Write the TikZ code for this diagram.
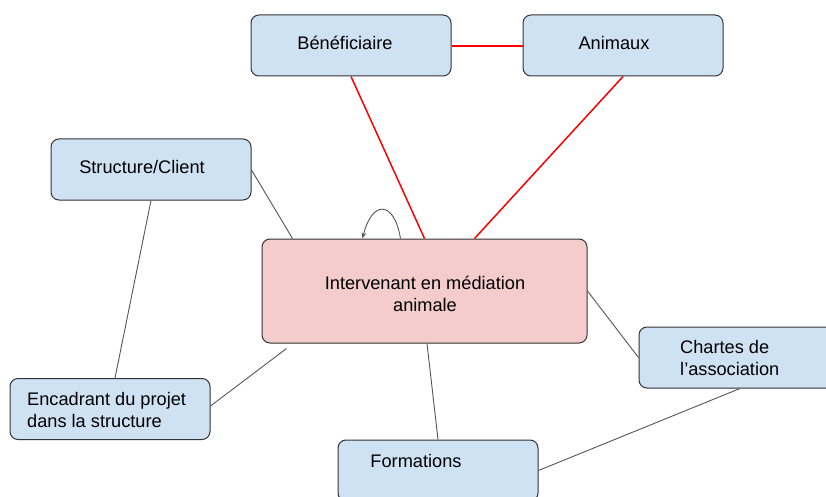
\documentclass[tikz,border=0pt]{standalone}
\usepackage{fontspec}
\setmainfont{Liberation Sans}
\usetikzlibrary{calc,arrows.meta}
\definecolor{boxblue}{HTML}{CFE2F3}
\definecolor{boxpink}{HTML}{F4CCCC}
\definecolor{edgegray}{HTML}{555555}
\definecolor{borderc}{HTML}{333333}
\begin{document}
\begin{tikzpicture}[x=1pt,y=-1pt,
  box/.style={draw=borderc,line width=1pt,rounded corners=8pt,fill=boxblue,
    minimum width=200pt,minimum height=61pt,inner sep=0pt},
  mainbox/.style={box,fill=boxpink,minimum width=325pt,minimum height=104pt},
  txt/.style={inner sep=0pt,align=center,font=\fontsize{18.2}{22}\selectfont},
  ltxt/.style={txt,align=left,anchor=west},
  redline/.style={draw=red,line width=1.5pt},
  grayline/.style={draw=edgegray,line width=0.9pt}]
\useasboundingbox (0,0) rectangle (826,497);
\clip (0,0) rectangle (826,497);
\fill[white] (0,0) rectangle (826,497);
\node[box] (ben) at (351,45.5) {};
\node[box] (ani) at (623,45.5) {};
\node[box] (str) at (151,169.5) {};
\node[mainbox] (int) at (424.5,291) {};
\node[box] (cha) at (739,357.5) {};
\node[box] (enc) at (110,409) {};
\node[box] (form) at (438,470.5) {};
\node[txt] (bent) at (345,43) {Bénéficiaire};
\node[txt] (anit) at (614,43) {Animaux};
\node[txt] (strt) at (142,167) {Structure/Client};
\node[txt] (intt) at (425,294) {Intervenant en médiation\\animale};
\node[ltxt] (chat) at (680,357.5) {Chartes de\\l’association};
\node[ltxt] (enct) at (27,409.5) {Encadrant du projet\\dans la structure};
\node[txt] (formt) at (416,461) {Formations};
% red connectors
\draw[redline] ([yshift=-0.5pt]ben.east) -- ([yshift=-0.5pt]ani.west);
\draw[redline] (ben.south) -- (int.north);
\draw[redline] (ani.south) -- ([xshift=50pt]int.north);
% gray connectors
\draw[grayline] ([yshift=-0.5pt]str.east) -- ([xshift=31pt]int.north west);
\draw[grayline] (str.south) -- ([xshift=5pt]enc.north);
\draw[grayline] ([xshift=25pt,yshift=-5pt]int.south west) -- ([yshift=3pt]enc.east);
\draw[grayline] (int.east) -- (cha.west);
\draw[grayline] ([xshift=2.5pt]int.south) -- (form.north);
\draw[grayline] ([xshift=1pt]cha.south) -- (form.east);
% self loop
\draw[grayline,-{Stealth[length=6pt,width=4.5pt]}] ([xshift=-24pt]int.north) .. controls (394,200) and (372,200) .. ([xshift=-62pt]int.north);
\end{tikzpicture}
\end{document}
